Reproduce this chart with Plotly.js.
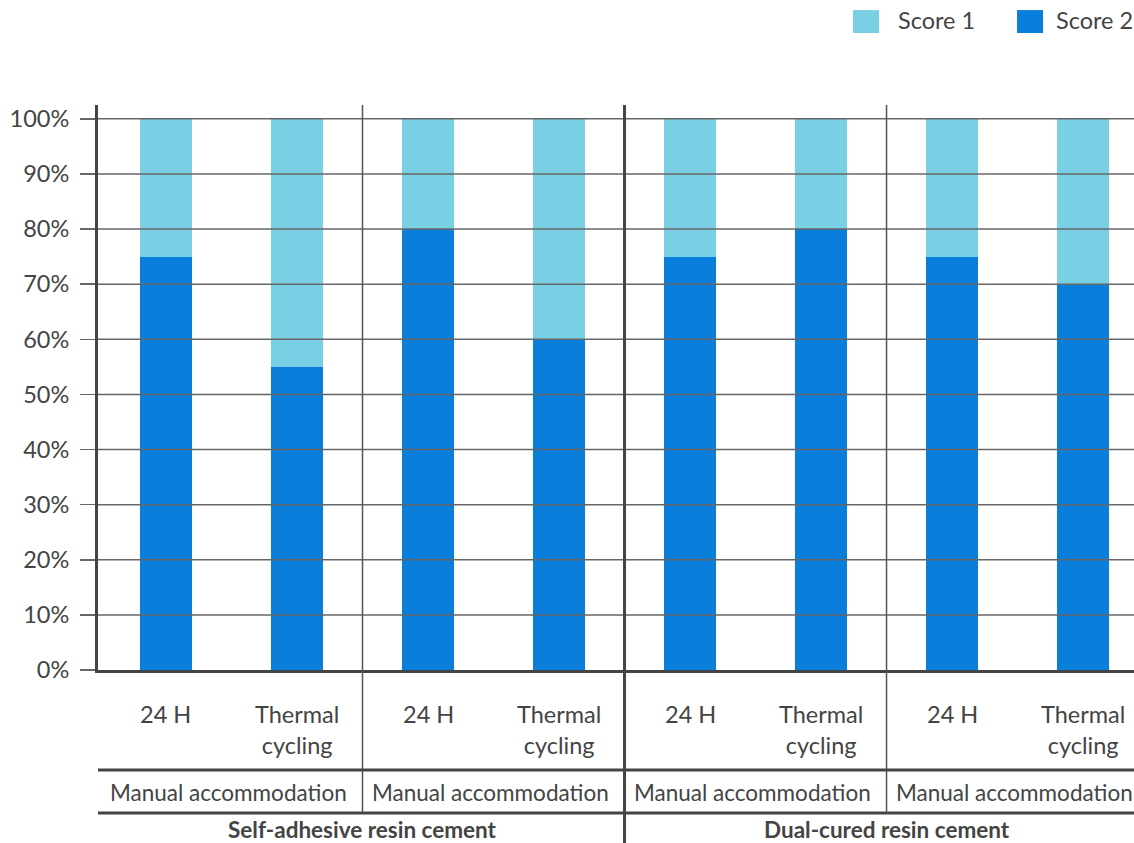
<!DOCTYPE html>
<html>
<head>
<meta charset="utf-8">
<script src="https://cdn.plot.ly/plotly-3.0.1.min.js"></script>
<style>html,body{margin:0;padding:0;background:#fff;}#chart{width:1134px;height:843px;}</style>
</head>
<body>
<div id="chart"></div>
<script>
// ---- data ----
const conditions = ["24 H", "Thermal<br>cycling", "24 H", "Thermal<br>cycling", "24 H", "Thermal<br>cycling", "24 H", "Thermal<br>cycling"];
const methods = ["Manual accommodation", "Manual accommodation", "Manual accommodation", "Manual accommodation"];
const cements = ["Self-adhesive resin cement", "Dual-cured resin cement"];
const score1 = [25, 45, 20, 40, 25, 20, 25, 30];
const score2 = [75, 55, 80, 60, 75, 80, 75, 70];
const seriesNames = ["Score 1", "Score 2"];
const yTicks = [0, 10, 20, 30, 40, 50, 60, 70, 80, 90, 100];

const FONT = "Lato, 'Open Sans', sans-serif";
const TXT = "#444";
const C1 = "#79CFE3", C2 = "#0A7EDB";

// unique category ids
const cats = conditions.map((c, i) => "c" + i);

const traces = [
  { type: "bar", name: seriesNames[1], x: cats, y: score2, width: 0.4,
    marker: { color: C2, line: { width: 0 } }, showlegend: false },
  { type: "bar", name: seriesNames[0], x: cats, y: score1, width: 0.4,
    marker: { color: C1, line: { width: 0 } }, showlegend: false }
];

const shapes = [];
const annotations = [];

// gridlines above bars
yTicks.filter(v => v > 0).forEach(v => {
  shapes.push({ type: "line", xref: "paper", yref: "y", x0: 0, x1: 1, y0: v, y1: v,
    line: { color: "#666", width: 1.5 }, layer: "above" });
});

// group separators
const pairCount = methods.length;
for (let g = 1; g < pairCount; g++) {
  const sep = g * 2 - 0.5;
  const major = (g % 2 === 0);
  shapes.push({ type: "line", xref: "x", yref: "paper", x0: sep, x1: sep,
    y0: 1, y1: major ? -0.32 : -0.251,
    line: { color: major ? "#444" : "#555", width: major ? 3 : 1.5 }, layer: "above" });
}
// horizontal rules under labels
[-0.177, -0.2531].forEach(yy => {
  shapes.push({ type: "line", xref: "paper", yref: "paper", x0: 0, x1: 1, y0: yy, y1: yy,
    line: { color: "#444", width: 3 } });
});

// condition labels
conditions.forEach((c, i) => {
  annotations.push({ xref: "x", yref: "paper", x: cats[i], y: -0.050, yanchor: "top",
    text: c, showarrow: false, align: "center",
    font: { family: FONT, size: 23.5, color: TXT } });
});
// method labels
methods.forEach((m, g) => {
  annotations.push({ xref: "x", yref: "paper", x: g * 2 + 0.5, y: -0.216, yanchor: "middle",
    xshift: -3, text: m, showarrow: false, font: { family: FONT, size: 22.5, color: TXT } });
});
// cement labels
cements.forEach((c, k) => {
  annotations.push({ xref: "x", yref: "paper", x: k * 4 + 1.5, y: -0.283, yanchor: "middle",
    text: "<b>" + c + "</b>", showarrow: false, font: { family: FONT, size: 22.5, color: TXT } });
});

// custom legend
const legendItems = [
  { name: seriesNames[0], color: C1, x0: 0.7288, x1: 0.7539, tx: 0.7700 },
  { name: seriesNames[1], color: C2, x0: 0.8871, x1: 0.9122, tx: 0.9225 }
];
legendItems.forEach(it => {
  shapes.push({ type: "rect", xref: "paper", yref: "paper", x0: it.x0, x1: it.x1,
    y0: 1.1274, y1: 1.168, fillcolor: it.color, line: { width: 0 } });
  annotations.push({ xref: "paper", yref: "paper", x: it.tx, y: 1.150, xanchor: "left",
    yanchor: "middle", text: it.name, showarrow: false,
    font: { family: FONT, size: 23.5, color: TXT } });
});

const layout = {
  width: 1134, height: 843,
  margin: { l: 98, r: 0, t: 105, b: 173, pad: 0 },
  paper_bgcolor: "#fff", plot_bgcolor: "#fff",
  barmode: "stack",
  showlegend: false,
  font: { family: FONT, color: TXT },
  xaxis: { type: "category", range: [-0.519, 7.389], showticklabels: false,
    showgrid: false, zeroline: false, showline: true, linecolor: "#444", linewidth: 3,
    ticks: "", fixedrange: true },
  yaxis: { range: [0, 102.5], tickvals: yTicks, ticktext: yTicks.map(v => v + "%"),
    showgrid: false, zeroline: false, showline: true, linecolor: "#444", linewidth: 3,
    ticks: "outside", ticklen: 15, tickwidth: 1.5, tickcolor: "#666",
    ticklabelstandoff: 6,
    tickfont: { family: FONT, size: 23.5, color: TXT }, fixedrange: true },
  shapes: shapes,
  annotations: annotations
};

Plotly.newPlot("chart", traces, layout, { displayModeBar: false, staticPlot: true });
</script>
</body>
</html>
